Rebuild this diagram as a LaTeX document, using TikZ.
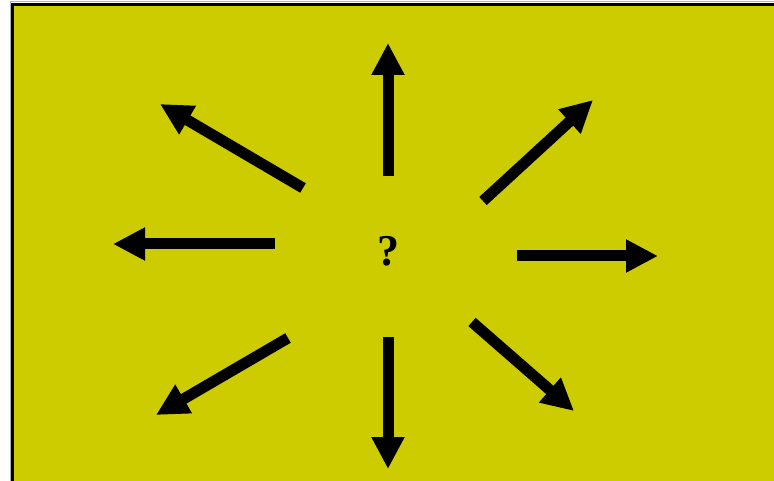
\documentclass[tikz,border=0pt]{standalone}
\usepackage{fontspec}
\setmainfont{Liberation Serif}
\usetikzlibrary{arrows.meta}
\definecolor{bgyellow}{RGB}{204,204,0}
\tikzset{
  bigarrow/.style={line width=11pt, -{Triangle[length=32pt,width=31pt]}, draw=black},
  panel/.style={fill=bgyellow, draw=black, line width=3pt}
}
\begin{document}
\begin{tikzpicture}[x=1pt,y=-1pt]
\useasboundingbox (0,0) rectangle (774,481);
\draw[gray!60, line width=1pt] (10,2) rectangle (790,495);
\draw[panel] (12.5,4.5) rectangle (790,495);
\node[inner sep=0pt, font=\fontsize{44}{48}\selectfont\bfseries] (q) at (388,251) {?};
\coordinate (u0) at (388,176);   \coordinate (u1) at (388,43);
\coordinate (ur0) at (483,201);  \coordinate (ur1) at (593,100);
\coordinate (r0) at (517,256);   \coordinate (r1) at (658,256);
\coordinate (dr0) at (472,322);  \coordinate (dr1) at (574,411);
\coordinate (d0) at (388,337);   \coordinate (d1) at (388,469);
\coordinate (dl0) at (288,338);  \coordinate (dl1) at (156,415);
\coordinate (l0) at (275,244);   \coordinate (l1) at (113,244);
\coordinate (ul0) at (303,188);  \coordinate (ul1) at (160,104);
\draw[bigarrow] (u0) -- (u1);
\draw[bigarrow] (ur0) -- (ur1);
\draw[bigarrow] (r0) -- (r1);
\draw[bigarrow] (dr0) -- (dr1);
\draw[bigarrow] (d0) -- (d1);
\draw[bigarrow] (dl0) -- (dl1);
\draw[bigarrow] (l0) -- (l1);
\draw[bigarrow] (ul0) -- (ul1);
\end{tikzpicture}
\end{document}
